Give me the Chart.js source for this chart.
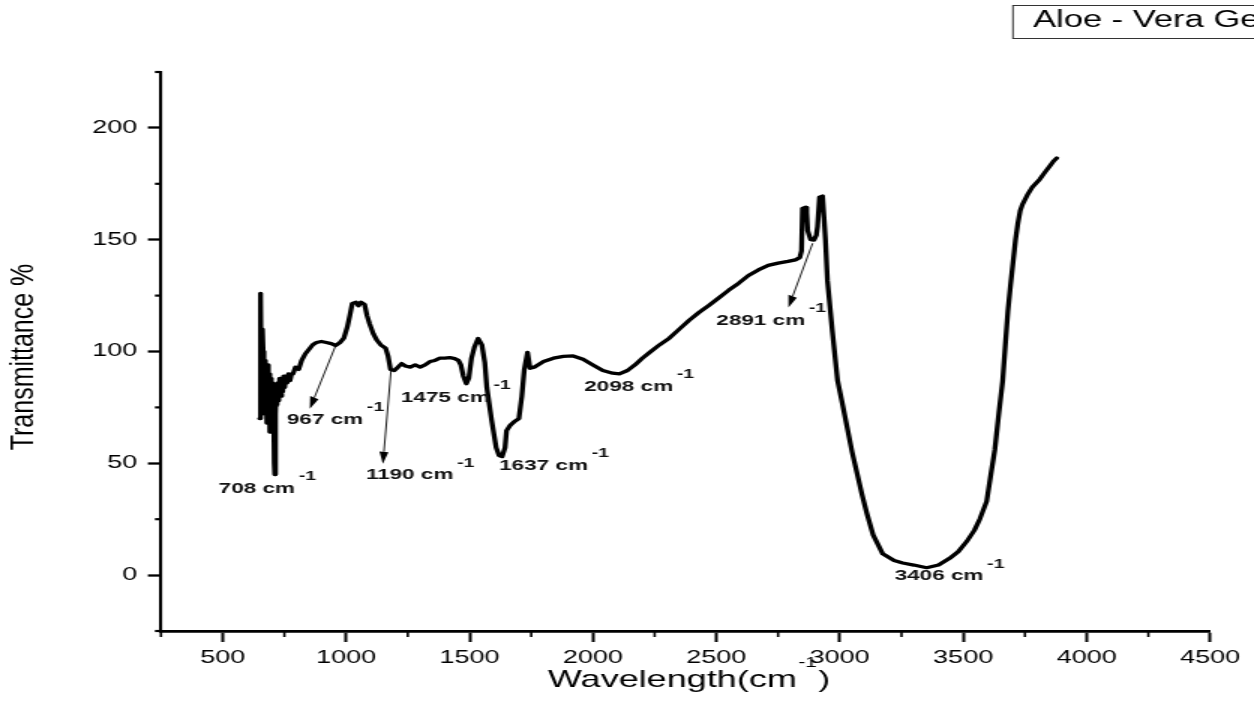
<!DOCTYPE html>
<html>
<head>
<meta charset="utf-8">
<script src="https://cdn.jsdelivr.net/npm/chart.js@4.4.1/dist/chart.umd.min.js"></script>
<style>
html,body{margin:0;padding:0;background:#fff;overflow:hidden;}
canvas{display:block;}
</style>
</head>
<body>
<canvas id="c" width="836" height="726" style="width:1254px;height:726px;"></canvas>
<script>
// ---------------- data ----------------
const seriesLabel = 'Aloe - Vera Gel';
const wavenumber = [
  650,652,655,658,661,664,667,670,673,676,679,682,685,688,691,694,697,700,703,706,
  709,711,714,717,720,723,727,731,735,739,743,747,751,756,761,767,773,779,785,795,
  808,820,835,850,865,880,900,920,940,958,975,991,
  1005,1015,1025,1040,1050,1060,1075,1085,1095,1110,1125,1140,1160,1170,1180,1195,1210,1225,1240,1260,
  1280,1300,1320,1340,1360,1380,1400,1420,1440,1455,1465,1475,1487,1497,1508,1520,1535,1550,1562,1570,
  1590,1608,1620,1632,1644,1650,1665,1680,1700,1712,1722,1735,1745,1762,1800,1840,1880,1920,1960,2000,
  2040,2080,2107,2140,2170,2200,2230,2270,2310,2350,2390,2430,2470,2510,2550,2590,2630,2670,2710,2750,
  2790,2820,2838,2845,2849,2862,2866,2870,2882,2895,2905,2910,2918,2930,2936,2942,2950,2970,2991,3010,
  3030,3050,3070,3090,3110,3135,3174,3220,3255,3300,3352,3400,3445,3480,3514,3545,3567,3595,3612,3628,3645,
  3660,3672,3681,3692,3701,3712,3721,3731,3741,3760,3780,3810,3830,3851,3865,3879
];
const transmittance = [
  70,126,124,72,110,100,84,96,76,92,68,94,72,90,64,88,66,86,74,82,
  50,45,72,84,76,86,78,88,80,88,82,89,84,89,86,90,87,90,90,93,
  92,96,99,101,103,104,104.5,104,103.5,102.7,104,106,
  111,116,121.5,122,120.5,122,121,116,112.5,108,105,103,101.5,98,92,91.5,93,94.6,93.5,93,
  94,93,94,95.5,96,97,97,97.3,96.8,96,94,89,85.6,88,97,102,105.8,103,95,84,
  69,57,53.5,53,57,64.6,67,68.5,70,80,92,99.6,92.5,93,95.5,97,97.8,98,96.5,94,
  91.5,90.3,90,91.5,94,97,99.6,103,106,110,114,117.5,120.6,124,127.4,130.5,134,136.5,138.5,139.5,
  140.3,141,142,145,164,164.5,162,154,150,149.8,152,156,169,169.5,160,149.8,131.8,109,87,77,
  66,55,45.5,36,27.5,18,9.5,6.5,5.4,4.5,3.3,4.5,7.5,10.5,15,20,25,33,45,56,73,
  87,105,118,130,139,150,157,163,166,170,173.5,177,180,183,185,186.5
];
const xTickValues = [500,1000,1500,2000,2500,3000,3500,4000,4500];
const xMinorValues = [250,750,1250,1750,2250,2750,3250,3750,4250];
const yTickValues = [0,50,100,150,200];
const yMinorValues = [-25,25,75,125,175,225];

// peak annotations (label anchor = left edge / middle of text, in data units)
const peakNames  = ['708','967','1190','1475','1637','2098','2891','3406'];
const peakLabelX = [484,760,1080,1222,1620,1965,2500,3222];
const peakLabelY = [38.6,69.5,44.8,79.4,48.9,84.3,113.9,-0.4];
// arrows (from -> to, in data units)
const arrowFromX = [958,1182,2890];
const arrowFromY = [102.7,91.5,148.4];
const arrowToX   = [853,1149,2792];
const arrowToY   = [74.4,49.8,119.7];

const xTitle = 'Wavelength(cm';
const yTitle = 'Transmittance %';

// ---------------- drawing ----------------
const FONT = '"Liberation Sans", Arial, Helvetica, sans-serif';
const SX = 1254 / 836; // horizontal stretch of the picture

const overlay = {
  id: 'overlay',
  afterDraw(chart) {
    const ctx = chart.ctx;
    const a = chart.chartArea;
    const xs = chart.scales.x, ys = chart.scales.y;
    ctx.save();
    ctx.strokeStyle = '#000';
    ctx.fillStyle = '#000';

    // minor ticks
    ctx.lineWidth = 1.6;
    xMinorValues.forEach(v => {
      const p = xs.getPixelForValue(v);
      ctx.beginPath(); ctx.moveTo(p, a.bottom); ctx.lineTo(p, a.bottom + 6); ctx.stroke();
    });
    ctx.lineWidth = 2.2;
    yMinorValues.forEach(v => {
      const p = ys.getPixelForValue(v);
      ctx.beginPath(); ctx.moveTo(a.left, p); ctx.lineTo(a.left - 4, p); ctx.stroke();
    });

    // arrows
    ctx.lineWidth = 0.9;
    for (let i = 0; i < arrowFromX.length; i++) {
      const x1 = xs.getPixelForValue(arrowFromX[i]), y1 = ys.getPixelForValue(arrowFromY[i]);
      const x2 = xs.getPixelForValue(arrowToX[i]),   y2 = ys.getPixelForValue(arrowToY[i]);
      const sx1 = x1 * SX, sx2 = x2 * SX;
      const dx = sx2 - sx1, dy = y2 - y1, L = Math.hypot(dx, dy);
      const ux = dx / L, uy = dy / L;
      const hl = 12, hw = 4.5;
      const bx = sx2 - ux * hl, by = y2 - uy * hl;
      ctx.beginPath(); ctx.moveTo(x1, y1); ctx.lineTo(bx / SX, by); ctx.stroke();
      ctx.beginPath();
      ctx.moveTo(x2, y2);
      ctx.lineTo((bx - uy * hw) / SX, by + ux * hw);
      ctx.lineTo((bx + uy * hw) / SX, by - ux * hw);
      ctx.closePath(); ctx.fill();
    }

    // peak labels
    ctx.fillStyle = '#111';
    ctx.textBaseline = 'middle';
    ctx.textAlign = 'left';
    for (let i = 0; i < peakNames.length; i++) {
      const px = xs.getPixelForValue(peakLabelX[i]);
      const py = ys.getPixelForValue(peakLabelY[i]);
      ctx.font = 'bold 15px ' + FONT;
      const t = peakNames[i] + ' cm';
      ctx.fillText(t, px, py);
      const w = ctx.measureText(t).width;
      ctx.font = 'bold 13px ' + FONT;
      ctx.fillText('-1', px + w + 2.5, py - 12);
    }

    // x axis title
    ctx.fillStyle = '#000';
    ctx.font = '24px ' + FONT;
    const tx = 365.3, ty = 680;
    ctx.fillText(xTitle, tx, ty);
    const w = ctx.measureText(xTitle).width;
    ctx.font = '14px ' + FONT;
    ctx.fillText('-1', tx + w + 1, ty - 17);
    const w2 = ctx.measureText('-1').width;
    ctx.font = '24px ' + FONT;
    ctx.fillText(')', tx + w + 1 + w2 + 1, ty);

    // y axis title (rotated)
    ctx.save();
    ctx.translate(16, 357);
    ctx.rotate(-Math.PI / 2);
    ctx.scale(1, 0.85);
    ctx.textAlign = 'center';
    ctx.textBaseline = 'middle';
    ctx.font = '25px ' + FONT;
    ctx.fillText(yTitle, 0, 0);
    ctx.restore();

    // legend box
    ctx.strokeStyle = '#333';
    ctx.lineWidth = 1;
    ctx.strokeRect(675.3, 5.5, 200, 33);
    ctx.fillStyle = '#000';
    ctx.font = '23px ' + FONT;
    ctx.textAlign = 'left';
    ctx.fillText(chart.data.datasets[0].label, 688.7, 21);

    ctx.restore();
  }
};

Chart.defaults.color = '#000';
Chart.defaults.font.family = FONT;

new Chart(document.getElementById('c'), {
  type: 'line',
  data: {
    datasets: [{
      label: seriesLabel,
      data: wavenumber.map((x, i) => ({ x: x, y: transmittance[i] })),
      borderColor: '#000',
      backgroundColor: '#000',
      borderWidth: 3.3,
      pointRadius: 0,
      tension: 0,
      fill: false,
      borderJoinStyle: 'round',
      borderCapStyle: 'round'
    }]
  },
  options: {
    responsive: false,
    animation: false,
    devicePixelRatio: 1,
    layout: { padding: { top: 72, right: 29.3, bottom: 0, left: 0 } },
    plugins: { legend: { display: false }, tooltip: { enabled: false } },
    scales: {
      x: {
        type: 'linear', min: 250, max: 4500,
        afterBuildTicks: s => { s.ticks = xTickValues.map(v => ({ value: v })); },
        afterFit: s => { s.height = 95; },
        grid: { display: true, drawOnChartArea: false, drawTicks: true, tickLength: 11, tickWidth: 2, tickColor: '#000' },
        border: { display: true, color: '#000', width: 2.7 },
        ticks: { font: { size: 18 }, color: '#000', padding: 5, maxRotation: 0, autoSkip: false, callback: v => String(v) }
      },
      y: {
        type: 'linear', min: -25, max: 225,
        afterBuildTicks: s => { s.ticks = yTickValues.map(v => ({ value: v })); },
        afterFit: s => { s.width = 107.3; },
        grid: { display: true, drawOnChartArea: false, drawTicks: true, tickLength: 8.7, tickWidth: 2.3, tickColor: '#000' },
        border: { display: true, color: '#000', width: 2.1 },
        ticks: { font: { size: 18 }, color: '#000', padding: 7, autoSkip: false, callback: v => String(v) }
      }
    }
  },
  plugins: [overlay]
});
</script>
</body>
</html>
